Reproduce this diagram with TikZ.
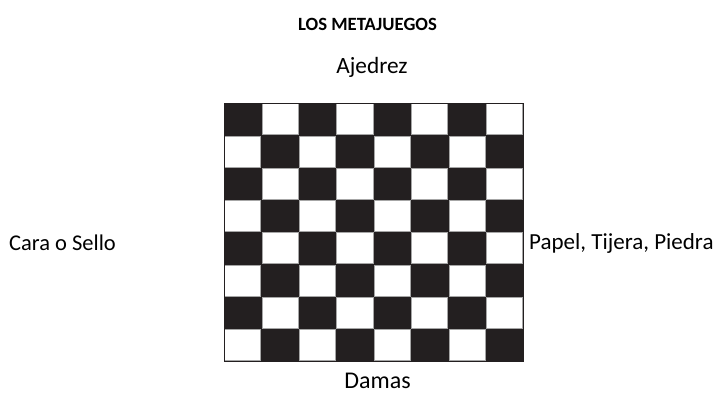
\documentclass[tikz,border=0pt]{standalone}
\usepackage{fontspec}
\setmainfont{Carlito}
\definecolor{boardblack}{HTML}{231F20}
\tikzset{
  lbl/.style={font=\fontsize{23.3}{26}\selectfont, inner sep=0pt, anchor=base},
  ttl/.style={font=\bfseries\fontsize{18.7}{21}\selectfont, inner sep=0pt, anchor=base},
  wsq/.style={fill=white, draw=gray!70, line width=0.6pt}
}
\begin{document}
\begin{tikzpicture}[x=1pt,y=-1pt]
\useasboundingbox (0,0) rectangle (716,394);
% board
\fill[boardblack] (224,103) rectangle (523,361);
\foreach \r in {0,...,7}{
  \foreach \c in {0,...,7}{
    \pgfmathtruncatemacro{\sqpar}{mod(\r+\c,2)}
    \ifnum\sqpar=1
      \filldraw[wsq] ({224+\c*37.375+0.6},{103+\r*32.25+0.6}) rectangle ({224+(\c+1)*37.375-0.6},{103+(\r+1)*32.25-0.6});
    \fi
  }
}
\draw[boardblack, line width=1pt] (224,103) rectangle (523,361);
% labels
\node[ttl] (title) at (367.5,30) {LOS METAJUEGOS};
\node[lbl] (ajedrez) at (372,73) {Ajedrez};
\node[lbl, font=\fontsize{24}{27}\selectfont, text depth=0pt] (damas) at (377.5,388.5) {Damas};
\node[lbl, anchor=base west, font=\fontsize{22.5}{25}\selectfont] (cara) at (9,250) {Cara o Sello};
\node[lbl, anchor=base west, font=\fontsize{23}{26}\selectfont] (papel) at (529,249) {Papel, Tijera, Piedra};
\end{tikzpicture}
\end{document}
